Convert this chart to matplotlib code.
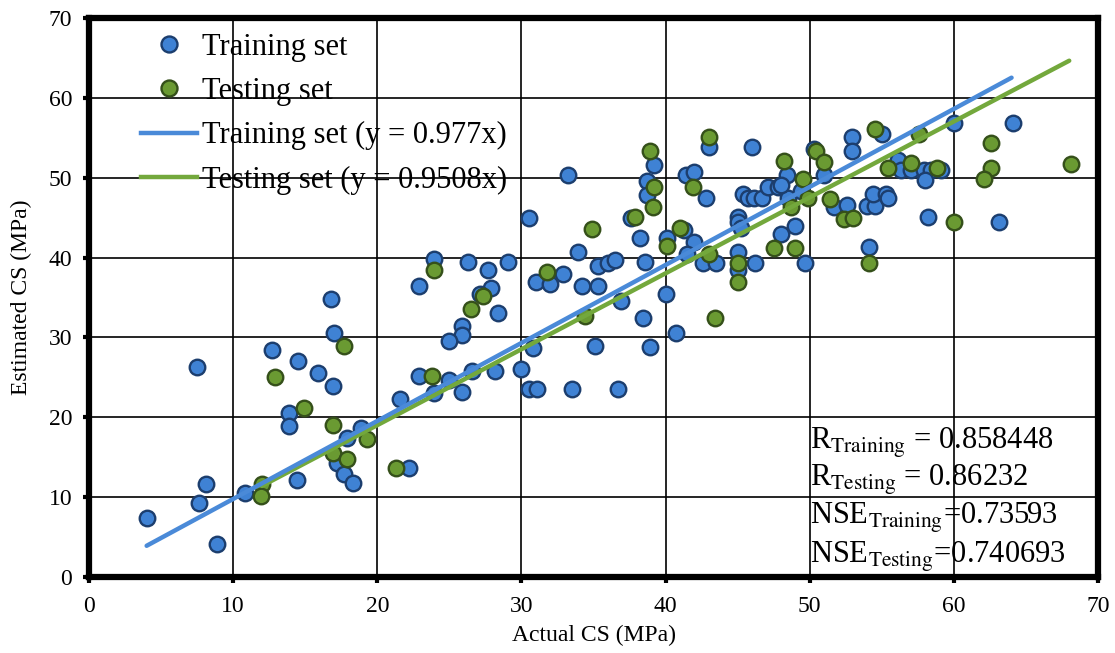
import numpy as np
import matplotlib.pyplot as plt
from matplotlib.lines import Line2D

plt.rcParams['font.family'] = ['Liberation Serif', 'DejaVu Serif']
plt.rcParams['mathtext.fontset'] = 'stix'

# Training set: actual vs estimated compressive strength (MPa)
train_x = [4.0, 7.5, 7.6, 8.1, 8.9, 10.8, 12.7, 14.5, 13.9, 13.9, 14.4, 15.9, 16.8, 17.0, 16.9,
           18.9, 17.9, 17.2, 17.7, 18.3,
           21.6, 22.2, 22.9, 23.9, 25.0, 25.9, 26.6, 28.2, 30.0, 30.5, 31.1, 33.5, 36.7,
           22.9, 23.9, 26.3, 27.7, 29.1, 27.9, 27.1, 28.4, 25.9, 25.9, 25.0,
           30.5, 33.2, 33.9, 31.0, 32.0, 32.9, 34.2, 35.3, 35.3, 36.0, 36.5, 35.1, 30.8, 36.9,
           38.4, 38.9, 40.0, 40.7, 38.6,
           39.2, 38.7, 38.7, 43.0, 46.0, 41.4, 42.0, 42.8, 37.6, 38.2, 40.1, 41.3, 42.0, 41.5,
           42.6, 43.5,
           45.0, 45.0, 45.2, 45.4, 45.7, 46.1, 46.7, 47.1, 47.8, 48.4, 48.5, 48.0, 49.0, 49.7,
           45.0, 45.0, 46.2, 48.0,
           50.3, 51.0, 51.7, 52.6, 52.9, 52.9, 49.4,
           55.0, 56.1, 56.3, 57.0, 57.9, 58.4, 59.1, 58.0, 54.0, 54.5, 54.4, 55.3, 55.4, 54.1,
           58.2, 60.0, 64.1, 63.1]
train_y = [7.4, 26.3, 9.3, 11.6, 4.1, 10.5, 28.4, 27.0, 20.5, 18.9, 12.1, 25.5, 34.8, 30.5, 23.9,
           18.7, 17.4, 14.3, 12.9, 11.8,
           22.3, 13.6, 25.2, 23.0, 24.7, 23.2, 25.8, 25.8, 26.0, 23.6, 23.6, 23.6, 23.6,
           36.4, 39.8, 39.5, 38.5, 39.5, 36.2, 35.5, 33.0, 31.4, 30.3, 29.5,
           45.0, 50.4, 40.7, 36.9, 36.7, 37.9, 36.4, 36.4, 38.9, 39.3, 39.7, 28.9, 28.7, 34.6,
           32.4, 28.8, 35.5, 30.5, 39.4,
           51.6, 49.6, 47.8, 53.8, 53.8, 50.4, 50.7, 47.5, 44.9, 42.5, 42.4, 43.5, 41.9, 40.5,
           39.3, 39.3,
           45.1, 44.4, 43.7, 47.9, 47.5, 47.5, 47.5, 48.9, 48.9, 50.4, 47.5, 42.9, 44.0, 39.3,
           40.7, 38.4, 39.3, 49.1,
           53.6, 50.3, 46.3, 46.6, 55.1, 53.4, 48.4,
           55.5, 52.2, 51.0, 51.0, 51.0, 51.0, 51.0, 49.7, 46.4, 46.4, 48.0, 48.0, 47.4, 41.3,
           45.1, 56.8, 56.8, 44.4]

# Testing set
test_x = [12.0, 11.9, 12.9, 14.9, 17.7, 16.9, 19.3, 16.9, 17.9,
          21.3, 23.8, 23.9, 26.5, 27.3, 31.8, 34.9, 34.4,
          38.9, 39.2, 39.1, 43.0, 41.9, 37.9, 40.1, 41.0, 43.0, 43.4,
          48.2, 49.5, 48.7, 47.5, 49.0, 45.0, 45.0,
          50.4, 51.0, 49.9, 51.4, 52.4, 53.0,
          54.5, 57.6, 55.4, 57.0, 58.8, 54.1, 60.0, 62.6, 62.6, 62.1, 68.1]
test_y = [11.6, 10.2, 25.0, 21.2, 28.9, 19.0, 17.3, 15.5, 14.8,
          13.6, 25.2, 38.4, 33.5, 35.2, 38.2, 43.6, 32.7,
          53.4, 48.9, 46.3, 55.1, 48.9, 45.1, 41.5, 43.7, 40.5, 32.4,
          52.1, 49.8, 46.3, 41.2, 41.2, 39.3, 36.9,
          53.4, 52.0, 47.4, 47.3, 44.8, 44.9,
          56.1, 55.5, 51.2, 51.8, 51.2, 39.3, 44.4, 54.3, 51.2, 49.8, 51.7]

# Regression lines through the origin
train_slope = 0.977
test_slope = 0.9508
train_range = [4, 64]
test_range = [12, 68]

stats = [r"R$_{\mathrm{Training}}$ = 0.858448",
         r"R$_{\mathrm{Testing}}$ = 0.86232",
         r"NSE$_{\mathrm{Training}}$=0.73593",
         r"NSE$_{\mathrm{Testing}}$=0.740693"]
stats_y = [16.1, 11.4, 6.6, 1.75]

blue_fill, blue_edge, blue_line = '#3f82d4', '#1c3e6e', '#4a8ad8'
green_fill, green_edge, green_line = '#6a9a32', '#35501a', '#73a83c'

fig = plt.figure(figsize=(11.15, 6.53), dpi=100)
ax = fig.add_axes([0.0798, 0.1164, 0.905, 0.856])

ax.scatter(train_x, train_y, s=125, c=blue_fill, edgecolors=blue_edge, linewidths=1.7, zorder=3)
ax.scatter(test_x, test_y, s=125, c=green_fill, edgecolors=green_edge, linewidths=1.7, zorder=3)

tx = np.array(train_range)
gx = np.array(test_range)
ax.plot(gx, test_slope * gx, color=green_line, lw=3.2, solid_capstyle='round', zorder=4)
ax.plot(tx, train_slope * tx, color=blue_line, lw=3.2, solid_capstyle='round', zorder=4)

ax.set_xlim(0, 70)
ax.set_ylim(0, 70)
ax.set_xticks(np.arange(0, 71, 10))
ax.set_yticks(np.arange(0, 71, 10))
ax.grid(True, color='black', lw=1.2, zorder=0)
ax.set_axisbelow(True)
for sp in ax.spines.values():
    sp.set_linewidth(4.5)
ax.tick_params(direction='out', length=4, width=3, labelsize=17)
ax.tick_params(axis='x', pad=10)
ax.tick_params(axis='y', pad=8)

ax.set_xlabel("Actual CS (MPa)", fontsize=17, labelpad=5)
ax.set_ylabel("Estimated CS (MPa)", fontsize=17, labelpad=12)

for txt, yy in zip(stats, stats_y):
    ax.text(50, yy, txt, fontsize=22, ha='left', va='baseline', zorder=5)

handles = [
    Line2D([], [], ls='none', marker='o', ms=11.5, mfc=blue_fill, mec=blue_edge, mew=1.7),
    Line2D([], [], ls='none', marker='o', ms=11.5, mfc=green_fill, mec=green_edge, mew=1.7),
    Line2D([], [], color=blue_line, lw=3.2),
    Line2D([], [], color=green_line, lw=3.2),
]
labels = ["Training set", "Testing set",
          "Training set (y = 0.977x)", "Testing set (y = 0.9508x)"]
ax.legend(handles, labels, loc='upper left', bbox_to_anchor=(0.03, 1.012), frameon=False,
          fontsize=22, handlelength=1.85, handletextpad=0.15, labelspacing=0.5,
          borderpad=0.2)

fig.savefig('out.png', dpi=100)
